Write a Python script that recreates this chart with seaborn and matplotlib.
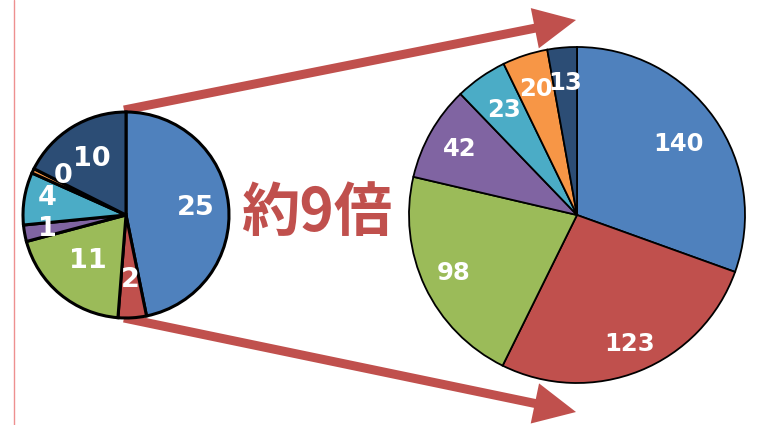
import matplotlib
matplotlib.use("Agg")
import matplotlib.pyplot as plt
import seaborn as sns
from matplotlib.patches import FancyArrow
import numpy as np

sns.set_theme(style="white")
plt.rcParams['font.family'] = ['Noto Sans CJK JP', 'DejaVu Sans']

# ---- data ----
categories = ["A", "B", "C", "D", "E", "F", "G"]
small_values = [25.3, 2.4, 10.6, 1.4, 4.45, 0.4, 9.5]   # shown rounded: 25, 2, 11, 1, 4, 0, 10
big_values = [140, 123, 98, 42, 23, 20, 13]
palette = ["#4F81BD", "#C0504D", "#9BBB59", "#8064A2", "#4BACC6", "#F79646", "#2C4D75"]
ratio_text = "約9倍"

# label radial positions (fraction of radius), style only
small_label_dist = [0.68, 0.63, 0.58, 0.78, 0.78, 0.72, 0.64]
big_label_dist = [0.74, 0.83, 0.81, 0.80, 0.76, 0.79, 0.79]

W, H = 758, 425
fig = plt.figure(figsize=(W / 100, H / 100), dpi=100)
ax = fig.add_axes([0, 0, 1, 1])

red = "#C0504D"


def draw_pie(values, center, radius, lw, fs, dists, angle_shift=None):
    wedges, _ = ax.pie(values, colors=palette, startangle=90, counterclock=False,
                       center=center, radius=radius,
                       wedgeprops=dict(edgecolor="black", linewidth=lw))
    for i, (w, v, d) in enumerate(zip(wedges, values, dists)):
        a = (w.theta1 + w.theta2) / 2
        if angle_shift is not None:
            a += angle_shift[i]
        ang = np.deg2rad(a)
        x = center[0] + d * radius * np.cos(ang)
        y = center[1] + d * radius * np.sin(ang)
        ax.text(x, y, f"{v:.0f}", color="white", fontsize=fs, fontweight="bold",
                ha="center", va="center", family=["DejaVu Sans"], zorder=5)


# arrows (behind pies)
for (x0, y0, x1, y1) in [(124, H - 110, 576, H - 20), (124, H - 318, 576, H - 412)]:
    ax.add_patch(FancyArrow(x0, y0, x1 - x0, y1 - y0, width=9, head_width=41,
                            head_length=42, length_includes_head=True,
                            color=red, lw=0, zorder=0.5))

draw_pie(small_values, (126, H - 215), 103, 2.2, 19.5, small_label_dist,
         angle_shift=[0, 0, 0, 0, -3, -6, 0])
draw_pie(big_values, (577, H - 215), 168, 1.3, 17.5, big_label_dist)

ax.axvline(14, color="#EE9090", lw=1)

ax.text(317, H - 214, ratio_text, color=red, fontsize=42, fontweight="bold",
        ha="center", va="center", family=["Noto Sans CJK JP", "DejaVu Sans"])

ax.set_xlim(0, W)
ax.set_ylim(0, H)
ax.set_aspect("equal")
ax.axis("off")

fig.savefig("out.png", dpi=100, facecolor="white")
